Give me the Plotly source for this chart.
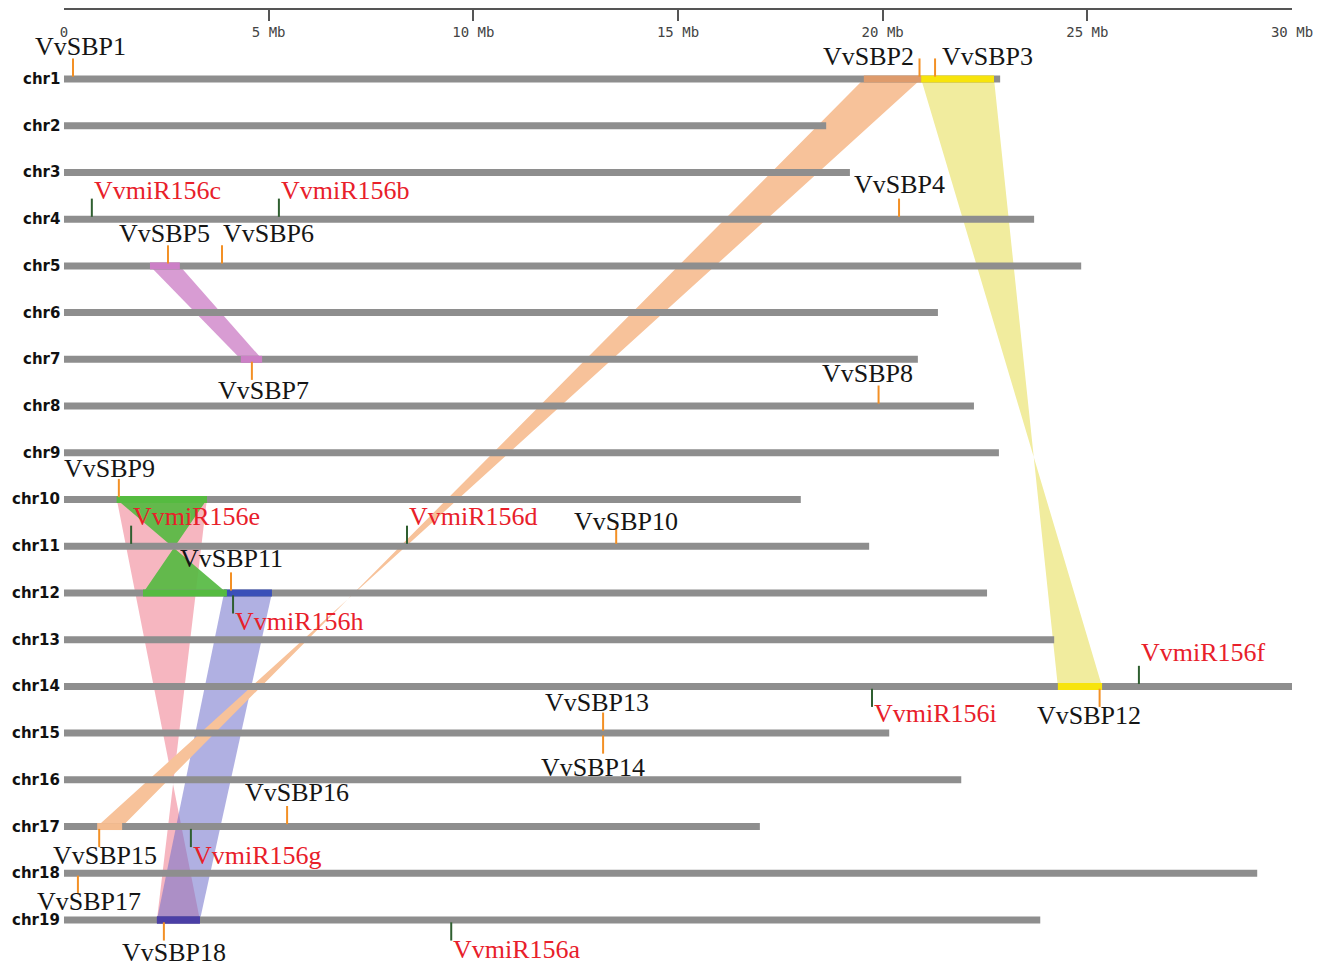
import plotly.graph_objects as go

# chromosome lengths (Mb), chr1..chr19
chr_names = [f"chr{i}" for i in range(1, 20)]
chr_len = [22.87, 18.62, 19.20, 23.70, 24.85, 21.35, 20.86, 22.23, 22.84, 18.00,
           19.67, 22.55, 24.19, 30.10, 20.16, 21.92, 17.00, 29.15, 23.85]

# SBP genes: name, chromosome, position (Mb), label side
sbp_names = ["VvSBP1", "VvSBP2", "VvSBP3", "VvSBP4", "VvSBP5", "VvSBP6", "VvSBP7", "VvSBP8", "VvSBP9",
             "VvSBP10", "VvSBP11", "VvSBP12", "VvSBP13", "VvSBP14", "VvSBP15", "VvSBP16", "VvSBP17", "VvSBP18"]
sbp_chr = [1, 1, 1, 4, 5, 5, 7, 8, 10, 11, 12, 14, 15, 15, 17, 17, 18, 19]
sbp_pos = [0.22, 20.90, 21.28, 20.40, 2.54, 3.86, 4.59, 19.90, 1.34,
           13.49, 4.08, 25.30, 13.17, 13.17, 0.86, 5.45, 0.34, 2.44]
sbp_side = ["up", "up", "up", "up", "up", "up", "down", "up", "up",
            "up", "up", "down", "up", "down", "down", "up", "down", "down"]

# miR156 loci
mir_names = ["VvmiR156a", "VvmiR156b", "VvmiR156c", "VvmiR156d", "VvmiR156e",
             "VvmiR156f", "VvmiR156g", "VvmiR156h", "VvmiR156i"]
mir_chr = [19, 4, 4, 11, 11, 14, 17, 12, 14]
mir_pos = [9.46, 5.25, 0.68, 8.38, 1.64, 26.26, 3.10, 4.13, 19.74]
mir_side = ["down", "up", "up", "up", "up", "up", "down", "down", "down"]

# syntenic blocks: (chrA, startA, endA, chrB, startB, endB, inverted)
block_chr_a = [1, 1, 5, 10, 10, 12]
block_a = [(19.54, 20.94), (20.94, 22.72), (2.10, 2.83), (1.29, 3.49), (1.29, 3.49), (3.91, 5.08)]
block_chr_b = [17, 14, 7, 12, 19, 19]
block_b = [(0.81, 1.42), (24.28, 25.36), (4.32, 4.84), (1.93, 3.98), (2.27, 3.32), (2.27, 3.32)]
block_inv = [True, True, False, True, True, False]

ribbon_col = ["#F7C29A", "#F1EC9E", "#D89CD3", "rgba(86,186,66,0.92)",
              "rgba(238,122,140,0.55)", "rgba(112,112,202,0.55)"]
seg_col_a = ["#DE9B6C", "#F7E40C", "#CC7FC6", "#55BB40", "#55BB40", "#3A50B8"]
seg_col_b = ["#F4BC90", "#F7E40C", "#CC7FC6", "#55BB40", "#4B3FA6", "#4B3FA6"]
draw_order = [4, 5, 0, 1, 2, 3]

# label placement (anchor, xshift px, px below the chromosome; negative = above)
label_style = {
    "VvSBP1": ("center", 7, -33), "VvSBP2": ("right", -4, -23), "VvSBP3": ("left", 5, -23),
    "VvSBP4": ("center", 0, -35), "VvSBP5": ("center", -3, -32), "VvSBP6": ("left", -1, -32),
    "VvSBP7": ("center", 12, 31), "VvSBP8": ("center", -11, -33), "VvSBP9": ("center", -9, -31),
    "VvSBP10": ("center", 10, -25), "VvSBP11": ("center", 0, -34), "VvSBP12": ("center", -11, 29),
    "VvSBP13": ("center", -6, -31), "VvSBP14": ("center", -10, 34), "VvSBP15": ("center", 6, 29),
    "VvSBP16": ("center", 10, -34), "VvSBP17": ("center", 11, 28), "VvSBP18": ("center", 10, 33),
    "VvmiR156a": ("left", 0, 30), "VvmiR156b": ("left", 0, -29), "VvmiR156c": ("left", 0, -29),
    "VvmiR156d": ("left", 0, -30), "VvmiR156e": ("left", 0, -30), "VvmiR156f": ("left", 0, -34),
    "VvmiR156g": ("left", 0, 29), "VvmiR156h": ("left", 0, 29), "VvmiR156i": ("left", 0, 27),
}

serif = "Liberation Serif, Times New Roman, serif"
fig = go.Figure()

# ribbons between homologous blocks
for k in draw_order:
    a1, a2 = block_a[k]
    b1, b2 = block_b[k]
    ya, yb = block_chr_a[k], block_chr_b[k]
    if block_inv[k]:
        xs = [a1, a2, b1, b2, a1]
    else:
        xs = [a1, a2, b2, b1, a1]
    fig.add_trace(go.Scatter(x=xs, y=[ya, ya, yb, yb, ya], mode="lines", fill="toself",
                             fillcolor=ribbon_col[k], line=dict(width=0), hoverinfo="skip"))

# chromosomes
cx, cy = [], []
for i, L in enumerate(chr_len):
    cx += [0, L, None]
    cy += [i + 1, i + 1, None]
fig.add_trace(go.Scatter(x=cx, y=cy, mode="lines", line=dict(color="#8E8E8E", width=7), hoverinfo="skip"))

# coloured block segments on chromosomes
for k in draw_order:
    for ch, (s, e), col in [(block_chr_a[k], block_a[k], seg_col_a[k]), (block_chr_b[k], block_b[k], seg_col_b[k])]:
        fig.add_trace(go.Scatter(x=[s, e], y=[ch, ch], mode="lines", line=dict(color=col, width=7),
                                 hoverinfo="skip"))


def tick_xy(chrs, pos, sides):
    xs, ys = [], []
    for c, p, sd in zip(chrs, pos, sides):
        d = -1 if sd == "up" else 1
        xs += [p, p, None]
        ys += [c + d * 0.05, c + d * 0.44, None]
    return xs, ys


tx, ty = tick_xy(sbp_chr, sbp_pos, sbp_side)
fig.add_trace(go.Scatter(x=tx, y=ty, mode="lines", line=dict(color="#F39025", width=2), hoverinfo="skip"))
tx, ty = tick_xy(mir_chr, mir_pos, mir_side)
fig.add_trace(go.Scatter(x=tx, y=ty, mode="lines", line=dict(color="#2F5F30", width=2), hoverinfo="skip"))

annotations = []
for names, chrs, pos, col in [(sbp_names, sbp_chr, sbp_pos, "#151515"), (mir_names, mir_chr, mir_pos, "#E8202A")]:
    for n, c, p in zip(names, chrs, pos):
        anchor, xs, ys = label_style[n]
        annotations.append(dict(x=p, y=c, text=n, showarrow=False, xanchor=anchor, yanchor="middle",
                                xshift=xs, yshift=-ys, font=dict(family=serif, size=26, color=col)))

for i, name in enumerate(chr_names):
    annotations.append(dict(x=0, y=i + 1, text=f"<b>{name}</b>", showarrow=False, xanchor="right",
                            yanchor="middle", xshift=-2,
                            font=dict(family="DejaVu Sans", size=15, color="#111111")))

tick_vals = [0, 5, 10, 15, 20, 25, 30]
tick_text = ["0", "5 Mb", "10 Mb", "15 Mb", "20 Mb", "25 Mb", "30 Mb"]

fig.update_layout(
    width=1325, height=966,
    margin=dict(l=64, r=33, t=10, b=0),
    plot_bgcolor="white", paper_bgcolor="white",
    showlegend=False,
    annotations=annotations,
    xaxis=dict(range=[0, 30], side="top", showgrid=False, zeroline=False, automargin=False,
               showline=True, linecolor="#555555", linewidth=2,
               ticks="inside", ticklen=11, tickwidth=2, tickcolor="#555555",
               tickvals=tick_vals, ticktext=tick_text,
               ticklabelposition="inside", ticklabeloverflow="allow", ticklabelstandoff=6,
               tickfont=dict(family="DejaVu Sans Mono", size=14, color="#444444")),
    yaxis=dict(range=[19.985, -0.477], visible=False, showgrid=False, zeroline=False, automargin=False),
)

fig.write_html("out.html", config={"displayModeBar": False},
               post_script="document.body.style.margin='0px';")
